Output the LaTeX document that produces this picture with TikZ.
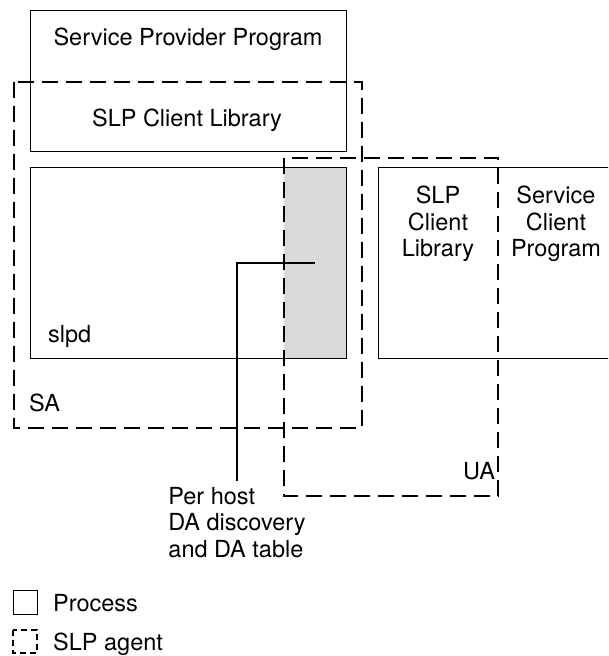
\documentclass[tikz,border=0pt]{standalone}
\usepackage{fontspec}
\setmainfont{TeX Gyre Heros}

\begin{document}
\begin{tikzpicture}[x=1pt,y=-1pt,
  lbl/.style = {font=\fontsize{23.5}{26.5}\selectfont, inner sep=0pt, align=center},
  agentline/.style = {line width=1.2pt, dash pattern=on 16pt off 8pt}]
	\useasboundingbox (0,0) rectangle (608,656);
	\clip (0,0) rectangle (608,656);
	% DA table inside slpd
	\node[fill=gray!30, inner sep=0pt, anchor=north west, minimum width=62pt, minimum height=191pt] (datable) at (284,167) {};
	\begin{scope}[every node/.style={draw,line width=1.2pt,inner sep=0pt,anchor=north west}]
		\node[minimum width=316pt, minimum height=141pt] (spp) at (30,10) {};
		\node[minimum width=316pt, minimum height=191pt] (slpd) at (30,167) {};
		\node[minimum width=250pt, minimum height=191pt] (scp) at (378,167) {};
		\node[minimum width=24pt, minimum height=24pt] (keyproc) at (13,590) {};
	\end{scope}
	% agents
	\coordinate (sa) at (14,82);
	\coordinate (ua) at (284,158);
	\coordinate (keyagent) at (13,630);
	\draw [agentline] (sa) rectangle (362,428);
	\draw [agentline] (ua) rectangle (498,496);
	\draw [agentline, dash pattern=on 6pt off 4pt] (keyagent) rectangle (37,653);
	\node[lbl, anchor=base] (spptext) at (188,45) {Service Provider Program};
	\node[lbl, anchor=base] (sppliba) at (187,126) {SLP Client Library};
	\node[lbl, anchor=base west] (slpdtext) at (48,342) {slpd};
	\node[lbl, anchor=base west] (satext) at (29,411) {SA};
	\node[lbl, anchor=base west] (uatext) at (463,479) {UA};
	\node[lbl, anchor=north] (scplib) at (438,186) {SLP\\Client\\Library};
	\node[lbl, anchor=north] (scptext) at (556,186) {Service\\Client\\Program};
	\node[lbl, align=left, anchor=north, outer ysep=6pt] (note) at (237,481) {Per host\\DA discovery\\and DA table};
	\coordinate (dadot) at (315,263);
	\draw [line width=1.2pt,black] (dadot) -| (note.north);
	% key
	\node[lbl, anchor=base west] (proctext) at (53,611) {Process};
	\node[lbl, anchor=base west] (agenttext) at (53,650) {SLP agent};
\end{tikzpicture}
\end{document}
